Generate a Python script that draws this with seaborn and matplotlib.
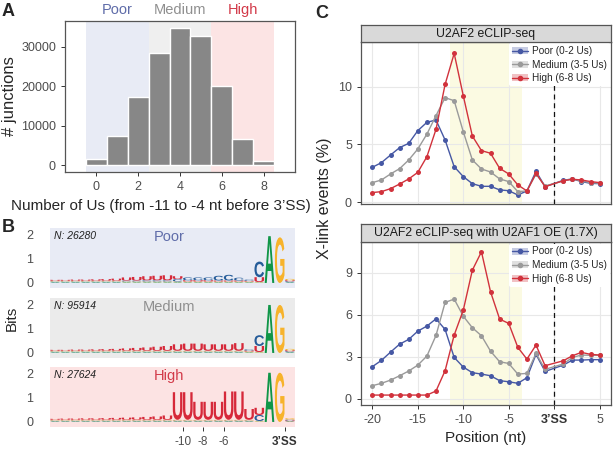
import numpy as np
import pandas as pd
import matplotlib
matplotlib.use("Agg")
import matplotlib.pyplot as plt
import seaborn as sns
from matplotlib.textpath import TextPath
from matplotlib.patches import PathPatch, Patch
from matplotlib.font_manager import FontProperties
from matplotlib.transforms import Affine2D, blended_transform_factory
from matplotlib.lines import Line2D

sns.set_style("ticks")
plt.rcParams["font.family"] = ["Liberation Sans", "DejaVu Sans"]

# ---- panel A data ----
n_us = [0, 1, 2, 3, 4, 5, 6, 7, 8]
n_junctions = [1500, 7500, 17300, 28300, 34800, 32700, 20000, 6600, 1000]
group_names = ["Poor", "Medium", "High"]
group_lo = [0, 3, 6]
group_hi = [2, 5, 8]

# ---- panel B data (sequence logo, bits) ----
logo_pos = list(range(-23, 0)) + [1]
logo_counts = ["N: 26280", "N: 95914", "N: 27624"]
poor_U = [.04, .04, .05, .05, .06, .07, .09, .13, .15, .17, .19, .21, .12, .05, .05, .05, .04, .04, .04, .03, .20, 0, 0, .04]
poor_C = [.03, .03, .03, .03, .03, .03, .03, .04, .04, .05, .05, .05, .10, .12, .12, .12, .20, .24, .12, .05, .65, 0, 0, .04]
poor_A = [.03, .03, .03, .03, .03, .03, .03, .03, .03, .03, .03, .03, .03, .03, .03, .03, .03, .03, .03, .03, .02, 1.95, 0, .03]
poor_G = [.03, .03, .03, .03, .03, .03, .03, .03, .03, .03, .03, .03, .03, .03, .03, .03, .03, .03, .03, .03, .02, 0, 1.90, .06]
medium_U = [.04, .04, .05, .05, .06, .07, .08, .10, .12, .14, .17, .20, .27, .30, .30, .27, .27, .27, .32, .04, .25, 0, 0, .04]
medium_C = [.03, .03, .03, .03, .03, .03, .03, .03, .03, .03, .03, .03, .03, .03, .03, .03, .03, .03, .03, .05, .45, 0, 0, .04]
medium_A = [.03, .03, .03, .03, .03, .03, .03, .03, .03, .03, .03, .03, .03, .03, .03, .03, .03, .03, .03, .03, .02, 2.0, 0, .03]
medium_G = [.03, .03, .03, .03, .03, .03, .03, .03, .03, .03, .03, .03, .03, .03, .03, .03, .03, .03, .03, .03, .02, 0, 2.0, .06]
high_U = [.04, .05, .05, .06, .06, .07, .08, .09, .10, .12, .14, .18, 1.15, 1.15, .75, .75, .75, 1.18, 1.18, .45, .30, 0, 0, .03]
high_C = [.03, .03, .03, .03, .03, .03, .03, .03, .03, .03, .03, .03, .03, .03, .03, .03, .03, .03, .03, .03, .25, 0, 0, .04]
high_A = [.03, .03, .03, .03, .03, .03, .03, .03, .03, .03, .03, .03, .03, .03, .03, .03, .03, .03, .03, .03, .02, 2.05, 0, .03]
high_G = [.03, .03, .03, .03, .03, .03, .03, .03, .03, .03, .03, .03, .03, .03, .03, .03, .03, .03, .03, .03, .02, 0, 2.05, .06]

# ---- panel C data (X-link events %) ----
positions = list(range(-20, 0)) + [1, 2, 3, 4, 5]
clip_labels = ["Poor (0-2 Us)", "Medium (3-5 Us)", "High (6-8 Us)"]
top_poor = [3.03, 3.43, 4.09, 4.73, 5.1, 6.2, 6.92, 7.12, 5.39, 3.08, 2.22, 1.61, 1.38, 1.38, 1.07, 1.0, 0.63, 0.98, 2.68, 1.35,
            1.9, 2.02, 1.79, 1.64, 1.61]
top_medium = [1.7, 1.93, 2.45, 2.91, 3.66, 4.61, 5.9, 7.5, 9.05, 8.79, 6.11, 3.66, 2.88, 2.62, 2.02, 1.79, 0.92, 0.98, 2.45, 1.41,
              1.84, 2.02, 1.84, 1.7, 1.64]
top_high = [0.84, 0.92, 1.18, 1.58, 2.02, 2.59, 3.95, 6.31, 10.2, 12.88, 9.22, 5.73, 4.47, 4.24, 2.94, 2.45, 1.5, 0.98, 2.5, 1.35,
            1.87, 1.99, 1.93, 1.79, 1.7]
bot_poor = [2.29, 2.74, 3.33, 3.9, 4.24, 4.83, 5.19, 5.71, 4.95, 2.95, 2.26, 1.86, 1.76, 1.64, 1.29, 1.21, 1.1, 1.5, 3.17, 1.95,
            2.4, 2.76, 2.76, 2.79, 2.79]
bot_medium = [0.93, 1.1, 1.33, 1.64, 1.98, 2.4, 3.05, 4.52, 6.88, 7.12, 5.9, 5.07, 4.5, 3.4, 2.64, 2.52, 1.76, 1.81, 3.24, 2.1,
              2.48, 2.95, 3.12, 3.1, 3.1]
bot_high = [0.26, 0.26, 0.26, 0.26, 0.26, 0.26, 0.26, 0.55, 2.0, 4.55, 6.33, 9.19, 10.5, 7.64, 5.69, 5.38, 3.67, 2.83, 3.83, 2.36,
            2.71, 3.07, 3.31, 3.17, 3.12]
motif_start, motif_end = -11, -4

# colours
group_text_colors = ["#5f6ca9", "#8f8f8f", "#d23a49"]
group_bg = ["#e8ebf5", "#efefef", "#fce4e4"]
logo_bg = ["#e8ebf5", "#ebebeb", "#fce3e3"]
clip_colors = ["#4658a4", "#9a9a9a", "#d1323c"]
letter_colors = {"U": "#d62839", "C": "#255c99", "A": "#109648", "G": "#f7b32b"}

W, H = 615, 449
fig = plt.figure(figsize=(W / 100, H / 100), dpi=100)


def rect(x0, y0, x1, y1):
    return [x0 / W, 1 - y1 / H, (x1 - x0) / W, (y1 - y0) / H]


def style_ticks(ax, size=8.5):
    ax.tick_params(colors="#333333", labelcolor="#4d4d4d", labelsize=size, length=3, width=0.7)
    for s in ax.spines.values():
        s.set_visible(True)
        s.set_color("#555555")
        s.set_linewidth(0.9)


# ---------------- A ----------------
axA = fig.add_axes(rect(65, 21, 295, 172))
for i in range(3):
    axA.axvspan(group_lo[i] - 0.5, group_hi[i] + 0.5, color=group_bg[i], lw=0, zorder=0)
    axA.text((group_lo[i] + group_hi[i]) / 2, 1.075, group_names[i], color=group_text_colors[i],
             fontsize=10.5, ha="center", va="center",
             transform=blended_transform_factory(axA.transData, axA.transAxes))
sns.barplot(x=n_us, y=n_junctions, native_scale=True, color="#878787", saturation=1,
            width=1, edgecolor="white", linewidth=1, ax=axA, zorder=2)
axA.set_xlim(-1.5, 9.5)
axA.set_ylim(-1750, 36540)
axA.set_xticks([0, 2, 4, 6, 8])
axA.set_yticks([0, 10000, 20000, 30000])
axA.set_xlabel("Number of Us (from -11 to -4 nt before 3\u2019SS)", fontsize=11)
axA.xaxis.set_label_coords(0.415, -0.18)
axA.set_ylabel("# junctions", fontsize=12, labelpad=3)
style_ticks(axA, 9)

# ---------------- B ----------------
fp = FontProperties(family="Liberation Sans", weight="bold")
logo_sets = [
    {"U": poor_U, "C": poor_C, "A": poor_A, "G": poor_G},
    {"U": medium_U, "C": medium_C, "A": medium_A, "G": medium_G},
    {"U": high_U, "C": high_C, "A": high_A, "G": high_G},
]
logo_rects = [(50, 228, 295, 288), (50, 298, 295, 358), (50, 367, 295, 427)]


def draw_logo(ax, heights):
    for i, p in enumerate(logo_pos):
        x0 = p if p < 0 else p - 1
        stack = sorted([(heights[b][i], b) for b in "ACGU"])
        y0 = 0
        for h, b in stack:
            if h <= 0:
                continue
            tp = TextPath((0, 0), b, size=1, prop=fp)
            bb = tp.get_extents()
            tr = (Affine2D().translate(-bb.x0, -bb.y0)
                  .scale(0.94 / bb.width, h / bb.height)
                  .translate(x0 + 0.03, y0))
            ax.add_patch(PathPatch(tr.transform_path(tp), facecolor=letter_colors[b], edgecolor="none"))
            y0 += h


for k in range(3):
    ax = fig.add_axes(rect(*logo_rects[k]))
    ax.set_facecolor(logo_bg[k])
    draw_logo(ax, logo_sets[k])
    ax.set_xlim(-23, 1)
    ax.set_ylim(-0.21, 2.29)
    ax.set_yticks([0, 1, 2])
    ax.tick_params(axis="y", length=0, pad=12, labelsize=9, labelcolor="#4d4d4d")
    for s in ax.spines.values():
        s.set_visible(False)
    ax.text(0.015, 0.87, logo_counts[k], transform=ax.transAxes, fontsize=7.5, style="italic",
            ha="left", va="center", color="#222222")
    ax.text(0.486, 0.85, group_names[k], transform=ax.transAxes, fontsize=10.5,
            color=group_text_colors[k], ha="center", va="center")
    if k < 2:
        ax.set_xticks([])
    else:
        ax.set_xticks([-10, -8, -6, 0])
        ax.set_xticklabels(["-10", "-8", "-6", "3\u2019SS"])
        ax.tick_params(axis="x", length=3, width=0.7, colors="#333333", labelcolor="#4d4d4d", labelsize=8.5)
        ax.get_xticklabels()[-1].set_fontweight("bold")
        ax.get_xticklabels()[-1].set_color("#333333")
fig.text(12 / W, 1 - 318 / H, "Bits", rotation=90, fontsize=11, ha="center", va="center")

# ---------------- C ----------------
clip_panels = [
    ("U2AF2 eCLIP-seq", (top_poor, top_medium, top_high), (361, 42, 611, 204), (361, 25, 611, 42),
     (-0.15, 13.87), [0, 5, 10]),
    ("U2AF2 eCLIP-seq with U2AF1 OE (1.7X)", (bot_poor, bot_medium, bot_high), (361, 242, 611, 405),
     (361, 224, 611, 242), (-0.45, 11.2), [0, 3, 6, 9]),
]
for j, (title, series, prect, srect, ylim, yt) in enumerate(clip_panels):
    ax = fig.add_axes(rect(*prect))
    df = pd.DataFrame({
        "pos": positions * 3,
        "val": series[0] + series[1] + series[2],
        "grp": [clip_labels[0]] * len(positions) + [clip_labels[1]] * len(positions) + [clip_labels[2]] * len(positions),
    })
    ax.axvspan(motif_start - 0.5, motif_end + 0.5, color="#fbfae2", lw=0, zorder=0.2)
    ax.grid(True, color="#e8e8e8", lw=0.8)
    ax.set_axisbelow(True)
    ax.axvline(0, color="#111111", ls=(0, (4, 3)), lw=0.9, zorder=1)
    sns.lineplot(data=df, x="pos", y="val", hue="grp", hue_order=clip_labels,
                 palette=dict(zip(clip_labels, clip_colors)), marker="o", markersize=3.6,
                 markeredgewidth=0, linewidth=1, legend=False, ax=ax, zorder=3)
    ax.set_xlim(-21.25, 6.25)
    ax.set_ylim(*ylim)
    ax.set_yticks(yt)
    ax.set_xticks([-20, -15, -10, -5, 0, 5])
    ax.set_xlabel("")
    ax.set_ylabel("")
    style_ticks(ax, 9)
    if j == 0:
        ax.tick_params(axis="x", length=0, labelbottom=False)
    else:
        ax.set_xticklabels(["-20", "-15", "-10", "-5", "3\u2019SS", "5"])
        ax.get_xticklabels()[4].set_fontweight("bold")
        ax.get_xticklabels()[4].set_color("#333333")
    handles = [(Patch(facecolor=c, alpha=0.3, edgecolor="none"),
                Line2D([], [], color=c, marker="o", ms=3, lw=1)) for c in clip_colors]
    leg = ax.legend(handles, clip_labels, loc="upper right", fontsize=7.2, frameon=True,
                    facecolor="white", edgecolor="none", framealpha=1, borderaxespad=0.15,
                    handlelength=1.6, handletextpad=0.4, labelspacing=0.35, borderpad=0.3)
    leg.set_zorder(5)
    sax = fig.add_axes(rect(*srect))
    sax.set_facecolor("#d9d9d9")
    sax.set_xticks([])
    sax.set_yticks([])
    for s in sax.spines.values():
        s.set_visible(True)
        s.set_color("#555555")
        s.set_linewidth(0.9)
    sax.text(0.5, 0.5, title, ha="center", va="center", fontsize=8.8, color="#1a1a1a", transform=sax.transAxes)

fig.text(325 / W, 1 - 198 / H, "X-link events (%)", rotation=90, fontsize=11.5, ha="center", va="center")
fig.text(486 / W, 1 - 438 / H, "Position (nt)", fontsize=11, ha="center", va="center")

# panel letters
fig.text(8 / W, 1 - 12 / H, "A", fontsize=13, fontweight="bold", ha="center", va="center")
fig.text(8 / W, 1 - 228 / H, "B", fontsize=13, fontweight="bold", ha="center", va="center")
fig.text(322 / W, 1 - 13 / H, "C", fontsize=13, fontweight="bold", ha="center", va="center")

fig.savefig("out.png", dpi=100, facecolor="white")
